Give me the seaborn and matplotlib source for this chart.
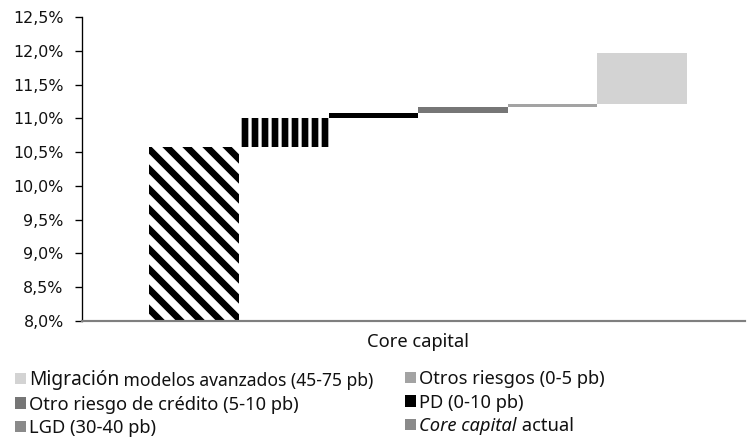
import matplotlib
matplotlib.use("Agg")
import matplotlib.pyplot as plt
import seaborn as sns
import pandas as pd
from matplotlib.patches import Patch
from matplotlib.ticker import FixedLocator, FuncFormatter

# Waterfall from current core capital to the level after each impact (%)
category = "Core capital"
series = [
    "Core capital actual",
    "LGD (30-40 pb)",
    "PD (0-10 pb)",
    "Otro riesgo de crédito (5-10 pb)",
    "Otros riesgos (0-5 pb)",
    "Migración modelos avanzados (45-75 pb)",
]
core_capital_actual = 10.57
impacts = [0.43, 0.08, 0.09, 0.04, 0.75]
y_min, y_max = 8.0, 12.5
y_ticks = [8.0, 8.5, 9.0, 9.5, 10.0, 10.5, 11.0, 11.5, 12.0, 12.5]
colors = ["#ffffff", "#ffffff", "#000000", "#767676", "#a3a3a3", "#d3d3d3"]

# heights and floating bottoms of each step
heights = [core_capital_actual - y_min] + impacts
bottoms = [y_min]
level = core_capital_actual
for d in impacts:
    bottoms.append(level)
    level += d

sns.set_theme(style="white")
plt.rcParams["font.family"] = ["Noto Sans", "DejaVu Sans"]
plt.rcParams["hatch.linewidth"] = 4.0
plt.rcParams["hatch.color"] = "black"

TXT = "#111111"
df = pd.DataFrame({"grupo": [category] * len(series), "serie": series, "altura": heights})

fig = plt.figure(figsize=(748 / 120, 437 / 120), dpi=120)
ax = fig.add_axes([82 / 748, 1 - 321 / 437, (745 - 82) / 748, (321 - 17) / 437])

sns.barplot(data=df, x="grupo", y="altura", hue="serie", hue_order=series,
            palette=colors, saturation=1, width=0.81, dodge=True,
            errorbar=None, legend=False, ax=ax)

hatches = ["\\\\", "||", None, None, None, None]
for cont, b, h in zip(ax.containers, bottoms, hatches):
    for p in cont:
        p.set_y(b)
        p.set_linewidth(0)
        if h:
            p.set_hatch(h)
            p.set_edgecolor("black")

ax.set_xlim(-0.5068, 0.4932)
ax.set_ylim(y_min, y_max)
ax.yaxis.set_major_locator(FixedLocator(y_ticks))
ax.yaxis.set_major_formatter(FuncFormatter(lambda v, _: f"{v:.1f}%".replace(".", ",")))
ax.tick_params(axis="y", direction="out", length=4, width=0.8, color="black",
               pad=7, left=True, labelsize=9.5, labelcolor=TXT)
for lab in ax.get_yticklabels():
    lab.set_fontfamily("DejaVu Sans")
ax.tick_params(axis="x", length=0, pad=7, labelsize=11, labelcolor=TXT)
ax.set_xlabel("")
ax.set_ylabel("")
sns.despine(ax=ax)
ax.spines["left"].set_color("black")
ax.spines["left"].set_linewidth(0.8)
ax.spines["bottom"].set_color("#7f7f7f")
ax.spines["bottom"].set_linewidth(1.3)

# legend in two columns, each its own block
def handle(color, hatch=None):
    return Patch(facecolor=color, edgecolor="none", hatch=hatch)

leg_kw = dict(frameon=False, fontsize=11, handlelength=0.62, handleheight=0.55,
              handletextpad=0.15, labelspacing=0.30, borderaxespad=0, borderpad=0,
              loc="upper left", labelcolor=TXT)
col1 = fig.legend([handle("#d3d3d3"), handle("#767676"), handle("#8a8a8a")],
                  ["Migración", "Otro riesgo de crédito (5-10 pb)", "LGD (30-40 pb)"],
                  bbox_to_anchor=(15 / 748, 1 - 370 / 437), **leg_kw)
col2 = fig.legend([handle("#a3a3a3"), handle("#000000"), handle("#8a8a8a")],
                  ["Otros riesgos (0-5 pb)", "PD (0-10 pb)", "Core capital"],
                  bbox_to_anchor=(405 / 748, 1 - 370 / 437), **leg_kw)
col1.get_texts()[0].set_fontsize(11.5)
col2.get_texts()[2].set_fontstyle("italic")

# continuations of two legend entries in another size / style
fig.canvas.draw()
W, H = fig.bbox.width, fig.bbox.height
bb = col1.get_texts()[0].get_window_extent()
fig.text(bb.x1 / W, bb.y0 / H, " modelos avanzados (45-75 pb)",
         ha="left", va="bottom", fontsize=10.5, color=TXT)
bb = col2.get_texts()[2].get_window_extent()
fig.text(bb.x1 / W, bb.y0 / H, " actual",
         ha="left", va="bottom", fontsize=11, color=TXT)

fig.savefig("out.png", dpi=120)
